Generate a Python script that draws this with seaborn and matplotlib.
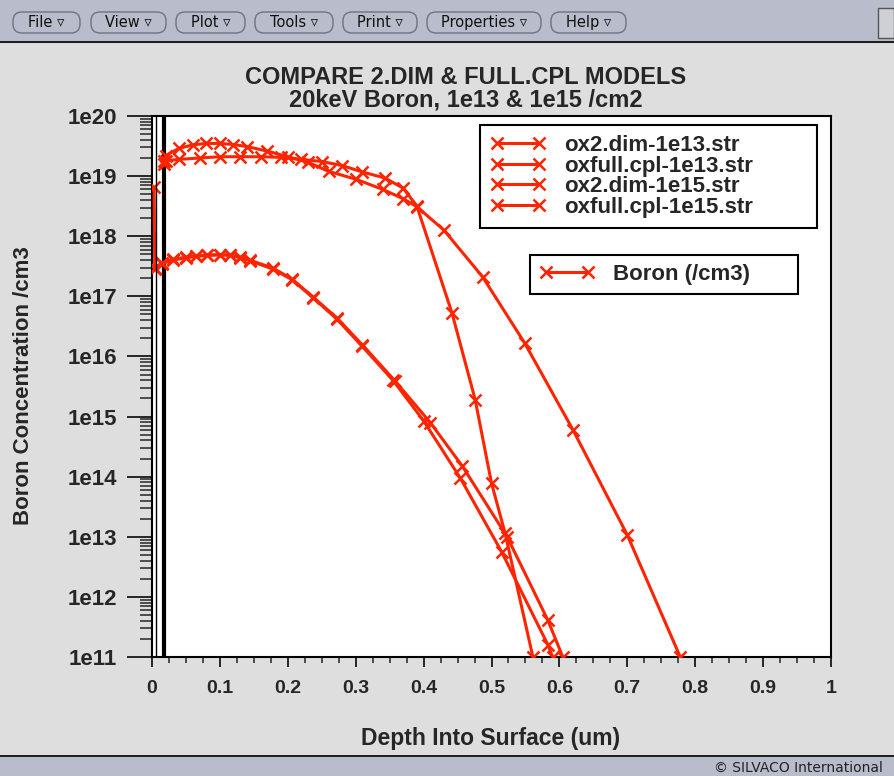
''' Boron profiles: 2.dim vs full.cpl oxidation models (TonyPlot style) '''

import numpy as np
import pandas as pd
import matplotlib
matplotlib.use('Agg')
import matplotlib.pyplot as plt
import seaborn as sns
from matplotlib.lines import Line2D
from matplotlib.patches import Rectangle, FancyBboxPatch
from matplotlib.ticker import FixedLocator, FuncFormatter, MultipleLocator, LogLocator
from matplotlib.transforms import IdentityTransform
from matplotlib import font_manager

# data (depth in um, concentration in /cm3)
files = ['ox2.dim-1e13.str', 'oxfull.cpl-1e13.str', 'ox2.dim-1e15.str', 'oxfull.cpl-1e15.str']

dim13_depth = [0.003, 0.004, 0.015, 0.031, 0.05, 0.065, 0.081, 0.10, 0.115, 0.13, 0.144, 0.178,
               0.206, 0.237, 0.272, 0.31, 0.358, 0.41, 0.457, 0.523, 0.583, 0.605]
dim13_conc = [6.5e18, 3.0e17, 3.6e17, 4.1e17, 4.5e17, 4.7e17, 4.85e17, 4.95e17, 4.85e17, 4.5e17, 4.0e17, 2.95e17,
              1.95e17, 9.8e16, 4.4e16, 1.55e16, 3.9e15, 7.9e14, 1.5e14, 1.0e13, 4.1e11, 1.0e11]

cpl13_depth = [0.004, 0.015, 0.031, 0.05, 0.065, 0.081, 0.10, 0.115, 0.13, 0.144, 0.178,
               0.206, 0.237, 0.272, 0.309, 0.355, 0.40, 0.454, 0.515, 0.583, 0.59]
cpl13_conc = [2.8e17, 3.5e17, 4.0e17, 4.4e17, 4.6e17, 4.8e17, 4.9e17, 4.8e17, 4.4e17, 3.9e17, 2.85e17,
              1.9e17, 9.5e16, 4.2e16, 1.5e16, 4.0e15, 8.5e14, 9.5e13, 5.6e12, 1.6e11, 1.0e11]

dim15_depth = [0.017, 0.02, 0.04, 0.06, 0.08, 0.10, 0.12, 0.14, 0.17, 0.20, 0.23, 0.26, 0.30,
               0.34, 0.37, 0.39, 0.43, 0.487, 0.549, 0.62, 0.70, 0.778]
dim15_conc = [1.8e19, 2.2e19, 2.9e19, 3.3e19, 3.5e19, 3.5e19, 3.35e19, 3.1e19, 2.6e19, 2.1e19, 1.7e19, 1.2e19, 8.9e18,
              6.0e18, 4.2e18, 3.1e18, 1.26e18, 2.1e17, 1.66e16, 6.0e14, 1.07e13, 1.0e11]

cpl15_depth = [0.017, 0.02, 0.04, 0.07, 0.10, 0.13, 0.16, 0.19, 0.22, 0.25, 0.28, 0.31, 0.343,
               0.37, 0.39, 0.442, 0.476, 0.50, 0.52, 0.561]
cpl15_conc = [1.6e19, 1.8e19, 1.9e19, 2.0e19, 2.1e19, 2.1e19, 2.1e19, 2.05e19, 1.9e19, 1.75e19, 1.5e19, 1.17e19, 9.3e18,
              6.3e18, 3.2e18, 5.2e16, 1.9e15, 7.8e13, 1.15e13, 1.0e11]

depths = [dim13_depth, cpl13_depth, dim15_depth, cpl15_depth]
concs = [dim13_conc, cpl13_conc, dim15_conc, cpl15_conc]

df = pd.concat([pd.DataFrame({'depth': d, 'conc': c, 'file': f})
                for d, c, f in zip(depths, concs, files)], ignore_index=True)

RED = '#ff2400'
GRAY = '#dedede'
BAR = '#b9bccb'
W, H = 894, 776

sns.set_style('ticks')
plt.rcParams['font.family'] = ['Liberation Sans', 'DejaVu Sans']
plt.rcParams['font.weight'] = 'bold'

# narrow face for the x tick numbers, if it is there
names = {f.name for f in font_manager.fontManager.ttflist}
XFONT = 'Liberation Sans Narrow' if 'Liberation Sans Narrow' in names else 'Liberation Sans'
XSIZE = 16 if XFONT == 'Liberation Sans Narrow' else 14

fig = plt.figure(figsize=(W / 100, H / 100), dpi=100, facecolor=GRAY)

# window chrome: menu bar and status bar
fig.add_artist(Rectangle((0, 1 - 42 / H), 1, 42 / H, transform=fig.transFigure, color=BAR, zorder=0))
fig.add_artist(Line2D([0, 1], [1 - 42 / H, 1 - 42 / H], transform=fig.transFigure, color='black', lw=1.2))
fig.add_artist(Rectangle((0, 0), 1, 20 / H, transform=fig.transFigure, color=BAR, zorder=0))
fig.add_artist(Line2D([0, 1], [20 / H, 20 / H], transform=fig.transFigure, color='black', lw=1.2))
fig.text(714 / W, 8 / H, '\u00a9 SILVACO International', fontsize=10, family='DejaVu Sans',
         weight='normal', color='#222222', va='center', ha='left')

buttons = [('File', 13, 80), ('View', 91, 166), ('Plot', 176, 245), ('Tools', 255, 333),
           ('Print', 343, 417), ('Properties', 427, 541), ('Help', 551, 626)]
for name, x0, x1 in buttons:
    fig.add_artist(FancyBboxPatch((x0, H - 33), x1 - x0, 21, transform=IdentityTransform(),
                                  boxstyle='round,pad=0,rounding_size=9', facecolor=BAR,
                                  edgecolor='#6f7280', lw=1.0))
    fig.text((x0 + x1) / 2 / W, 1 - 22.5 / H, name + ' \u25bf', fontsize=10.5, family='DejaVu Sans',
             weight='normal', color='#111111', ha='center', va='center')
fig.add_artist(Rectangle((878 / W, 1 - 38 / H), 16 / W, 30 / H, transform=fig.transFigure,
                         facecolor='#cfd0d6', edgecolor='#555555', lw=1.0))

# plot area
ax = fig.add_axes([152 / W, 1 - 657 / H, (831 - 152) / W, (657 - 116) / H])
ax.set_facecolor('white')

sns.lineplot(data=df, x='depth', y='conc', hue='file', palette=[RED] * 4, estimator=None,
             sort=False, legend=False, ax=ax, marker='x', markersize=9, markeredgewidth=1.8,
             markeredgecolor=RED, linewidth=2.2, zorder=3)

# oxide / silicon interface lines
ax.axvline(0.006, color='black', lw=1.0, zorder=4)
ax.axvline(0.0177, color='black', lw=3.0, zorder=2)

ax.set_yscale('log')
ax.set_xlim(0, 1)
ax.set_ylim(1e11, 1e20)

ax.xaxis.set_major_locator(MultipleLocator(0.1))
ax.xaxis.set_minor_locator(MultipleLocator(0.025))
ax.xaxis.set_major_formatter(FuncFormatter(lambda v, p: '0' if abs(v) < 1e-9 else ('1' if abs(v - 1) < 1e-9 else f'{v:.1f}')))
ax.yaxis.set_major_locator(FixedLocator([10.0 ** k for k in range(11, 21)]))
ax.yaxis.set_minor_locator(LogLocator(base=10, subs=np.arange(2, 10), numticks=30))
ax.yaxis.set_major_formatter(FuncFormatter(lambda v, p: f'1e{int(round(np.log10(v)))}'))

ax.tick_params(axis='y', which='major', direction='out', length=18, width=1.4, pad=7, labelsize=16)
ax.tick_params(axis='y', which='minor', direction='out', length=9, width=1.1)
ax.tick_params(axis='x', which='major', direction='out', length=7.5, width=1.4, pad=9,
               labelsize=XSIZE, labelfontfamily=XFONT)
ax.tick_params(axis='x', which='minor', direction='out', length=4.5, width=1.1)

for s in ax.spines.values():
    s.set_visible(True)
    s.set_linewidth(1.5)
    s.set_color('black')

ax.set_xlabel('')
ax.set_ylabel('')
fig.text(491 / W, 1 - 738 / H, 'Depth Into Surface (um)', fontsize=16.5, weight='bold', ha='center', va='center')
fig.text(24 / W, 1 - 386 / H, 'Boron Concentration /cm3', fontsize=16, weight='bold', rotation=90,
         ha='center', va='center')
fig.text(466 / W, 1 - 84 / H, 'COMPARE 2.DIM & FULL.CPL MODELS', fontsize=17, weight='bold',
         ha='center', va='baseline')
fig.text(466 / W, 1 - 107 / H, '20keV Boron, 1e13 & 1e15 /cm2', fontsize=17, weight='bold',
         ha='center', va='baseline')

# legends
def handle():
    return Line2D([], [], color=RED, lw=2.2, marker='x', markersize=9, markeredgewidth=1.8)

leg1 = fig.legend([handle() for _ in files], files, loc='upper left',
                  bbox_to_anchor=(480 / W, 1 - 125 / H, 337 / W, 0), mode='expand', borderaxespad=0,
                  fancybox=False, edgecolor='black', framealpha=1, numpoints=2, handlelength=2.5,
                  handletextpad=0.85, labelspacing=-0.02, borderpad=0.45,
                  prop={'family': 'Liberation Sans', 'weight': 'bold', 'size': 16})
leg1.get_frame().set_linewidth(1.5)

leg2 = fig.legend([handle()], ['Boron (/cm3)'], loc='upper left',
                  bbox_to_anchor=(530 / W, 1 - 255 / H, 268 / W, 0), mode='expand', borderaxespad=0,
                  fancybox=False, edgecolor='black', framealpha=1, numpoints=2, handlelength=2.5,
                  handletextpad=0.85, borderpad=0.4,
                  prop={'family': 'Liberation Sans', 'weight': 'bold', 'size': 16})
leg2.get_frame().set_linewidth(1.5)

fig.savefig('out.png', dpi=100, facecolor=GRAY)
